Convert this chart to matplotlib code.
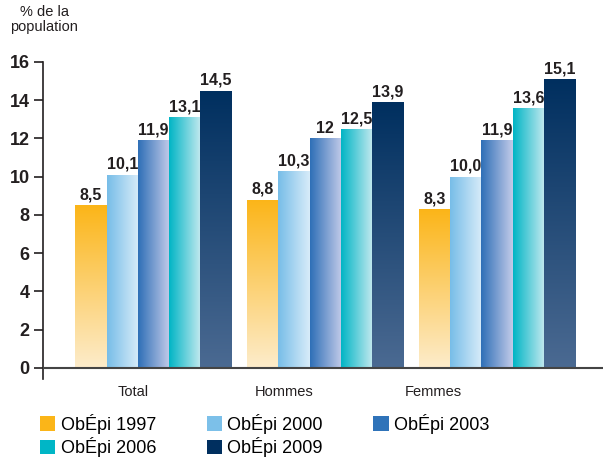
import numpy as np
import matplotlib
matplotlib.use("Agg")
import matplotlib.pyplot as plt
from matplotlib.colors import LinearSegmentedColormap
from matplotlib.patches import Patch
from matplotlib import font_manager

categories = ["Total", "Hommes", "Femmes"]
series_names = ["ObÉpi 1997", "ObÉpi 2000", "ObÉpi 2003", "ObÉpi 2006", "ObÉpi 2009"]
v1997 = [8.5, 8.8, 8.3]
v2000 = [10.1, 10.3, 10.0]
v2003 = [11.9, 12.0, 11.9]
v2006 = [13.1, 12.5, 13.6]
v2009 = [14.5, 13.9, 15.1]
labels1997 = ["8,5", "8,8", "8,3"]
labels2000 = ["10,1", "10,3", "10,0"]
labels2003 = ["11,9", "12", "11,9"]
labels2006 = ["13,1", "12,5", "13,6"]
labels2009 = ["14,5", "13,9", "15,1"]
yticks = [0, 2, 4, 6, 8, 10, 12, 14, 16]

values = [v1997, v2000, v2003, v2006, v2009]
labels = [labels1997, labels2000, labels2003, labels2006, labels2009]

avail = {f.name for f in font_manager.fontManager.ttflist}
cond = "Liberation Sans Narrow" if "Liberation Sans Narrow" in avail else "Liberation Sans"
plt.rcParams['font.family'] = [cond, "DejaVu Sans"]

solid = ["#FBB518", "#7CC0E9", "#2F73B9", "#00B6C6", "#002F5F"]
grads = [
    ("v", "#FBB518", "#FDECCB"),
    ("h", "#77BDE8", "#D8ECF9"),
    ("h", "#2E6FB7", "#C3CBE9"),
    ("h", "#00B5C5", "#C4E9EF"),
    ("v", "#002F5F", "#4B6A92"),
]

fig = plt.figure(figsize=(6.03, 4.59), dpi=100)
ax = fig.add_axes([43/603, 1-379/459, 1-43/603, (379-62)/459])

x = np.arange(len(categories))
w = 0.182
offsets = (np.arange(5) - 2) * w

for i, (vals, labs) in enumerate(zip(values, labels)):
    bars = ax.bar(x + offsets[i], vals, width=w, color="none", edgecolor="none", zorder=2)
    d, c0, c1 = grads[i]
    cmap = LinearSegmentedColormap.from_list(f"g{i}", [c0, c1])
    for b, lab in zip(bars, labs):
        x0, y0 = b.get_x(), b.get_y()
        bw, bh = b.get_width(), b.get_height()
        if d == "h":
            grad = np.linspace(0, 1, 256).reshape(1, -1)
        else:
            grad = np.linspace(0, 1, 256).reshape(-1, 1)
        im = ax.imshow(grad, cmap=cmap, extent=[x0, x0 + bw, y0, y0 + bh],
                       origin="upper", aspect="auto", zorder=2, interpolation="bilinear")
        im.set_clip_path(b)
        ax.text(x0 + bw / 2, y0 + bh + 0.15, lab, ha="center", va="bottom",
                fontsize=11.5, fontweight="bold", color="#231F20", zorder=3)

ax.set_xlim(-0.643, 2.617)
ax.set_ylim(-0.58, 16)
ax.axhline(0, color="#444444", lw=1.5, zorder=4)

for s in ["top", "right", "bottom"]:
    ax.spines[s].set_visible(False)
ax.spines["left"].set_color("#231F20")
ax.spines["left"].set_linewidth(1.2)
ax.set_yticks(yticks)
ax.set_yticklabels([str(t) for t in yticks], fontsize=13, fontweight="bold", color="#231F20")
ax.tick_params(axis="y", length=6.5, width=1.2, color="#231F20", pad=3)

label_pos = [-0.12, 0.76, 1.63]
ax.set_xticks(label_pos)
ax.set_xticklabels(categories, fontsize=10.5, color="#231F20")
ax.tick_params(axis="x", length=0, pad=4)

fig.text(44/603, 1-5/459, "% de la\npopulation", ha="center", va="top",
         multialignment="center", fontsize=10.5, color="#231F20", linespacing=1.05)

order = [0, 3, 1, 4, 2]
handles = [Patch(facecolor=solid[k], edgecolor="none") for k in order]
names = [series_names[k] for k in order]
fig.legend(handles, names, loc="lower left", bbox_to_anchor=(38/603, 0.0),
           ncol=3, frameon=False, fontsize=13, handlelength=0.85, handleheight=0.85,
           handletextpad=0.3, columnspacing=2.8, labelspacing=0.2, borderaxespad=0.1,
           borderpad=0.0)

fig.savefig("out.png", dpi=100)
